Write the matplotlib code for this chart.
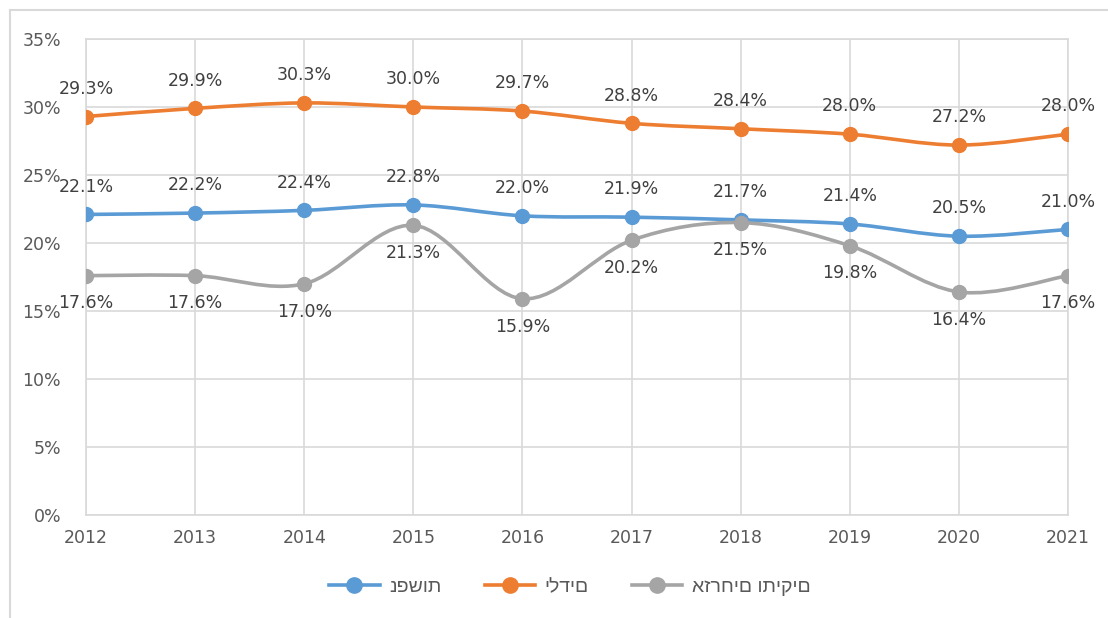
import numpy as np
import matplotlib.pyplot as plt
from matplotlib.path import Path
from matplotlib.patches import PathPatch
from matplotlib.lines import Line2D
from matplotlib.ticker import FuncFormatter

plt.rcParams['font.family'] = ['DejaVu Sans']

years = [2012, 2013, 2014, 2015, 2016, 2017, 2018, 2019, 2020, 2021]
nefashot = [22.1, 22.2, 22.4, 22.8, 22.0, 21.9, 21.7, 21.4, 20.5, 21.0]
yeladim = [29.3, 29.9, 30.3, 30.0, 29.7, 28.8, 28.4, 28.0, 27.2, 28.0]
vatikim = [17.6, 17.6, 17.0, 21.3, 15.9, 20.2, 21.5, 19.8, 16.4, 17.6]
names = ["נפשות", "ילדים", "אזרחים ותיקים"]
colors = ["#5B9BD5", "#ED7D31", "#A5A5A5"]
label_side = [1, 1, -1]  # above / above / below


def smooth_path(xs, ys):
    # Excel-style smoothed line: Catmull-Rom segments as cubic Beziers
    p = np.column_stack([xs, ys]).astype(float)
    verts = [p[0]]
    codes = [Path.MOVETO]
    n = len(p)
    for i in range(n - 1):
        p0 = p[i - 1] if i > 0 else p[i]
        p3 = p[i + 2] if i + 2 < n else p[i + 1]
        c1 = p[i] + (p[i + 1] - p0) / 6
        c2 = p[i + 1] - (p3 - p[i]) / 6
        verts += [c1, c2, p[i + 1]]
        codes += [Path.CURVE4] * 3
    return Path(verts, codes)


fig = plt.figure(figsize=(11.08, 6.18), dpi=100)
ax = fig.add_axes([86 / 1108, 1 - 515 / 618, (1068 - 86) / 1108, (515 - 39) / 618])

grid_c = "#D9D9D9"
text_c = "#595959"

for vals, col, side in zip([nefashot, yeladim, vatikim], colors, label_side):
    ax.add_patch(PathPatch(smooth_path(years, vals), facecolor="none",
                           edgecolor=col, lw=2.6, zorder=3, capstyle="round"))
    ax.plot(years, vals, "o", color=col, ms=10, zorder=4)
    for x, v in zip(years, vals):
        ax.annotate(f"{v:.1f}%", (x, v), xytext=(0, 20 * side), textcoords="offset points",
                    ha="center", va="center", fontsize=12.5, color="#404040", zorder=5)

ax.set_xlim(2012, 2021)
ax.set_ylim(0, 35)
ax.set_xticks(years)
ax.set_yticks(range(0, 36, 5))
ax.yaxis.set_major_formatter(FuncFormatter(lambda v, _: f"{v:.0f}%"))
ax.grid(True, color=grid_c, lw=1.2)
ax.set_axisbelow(True)
for s in ax.spines.values():
    s.set_color(grid_c)
    s.set_linewidth(1.2)
ax.tick_params(length=0, labelsize=12.5, labelcolor=text_c)
ax.tick_params(axis="y", pad=18)
ax.tick_params(axis="x", pad=10)

handles = [Line2D([], [], color=c, lw=2.6, marker="o", ms=11) for c in colors]
fig.legend(handles, names, loc="center", bbox_to_anchor=(570 / 1108, 1 - 587 / 618),
           ncol=3, frameon=False, prop={"family": ["Liberation Sans", "DejaVu Sans"], "size": 14},
           labelcolor=text_c, handlelength=2.6, columnspacing=2.2, handletextpad=0.5)

# outer chart frame (cropped on right and bottom)
fig.add_artist(Line2D([10 / 1108, 10 / 1108], [0, 1 - 10 / 618], color=grid_c, lw=1.5))
fig.add_artist(Line2D([10 / 1108, 1], [1 - 10 / 618, 1 - 10 / 618], color=grid_c, lw=1.5))

fig.savefig("out.png", dpi=100)
